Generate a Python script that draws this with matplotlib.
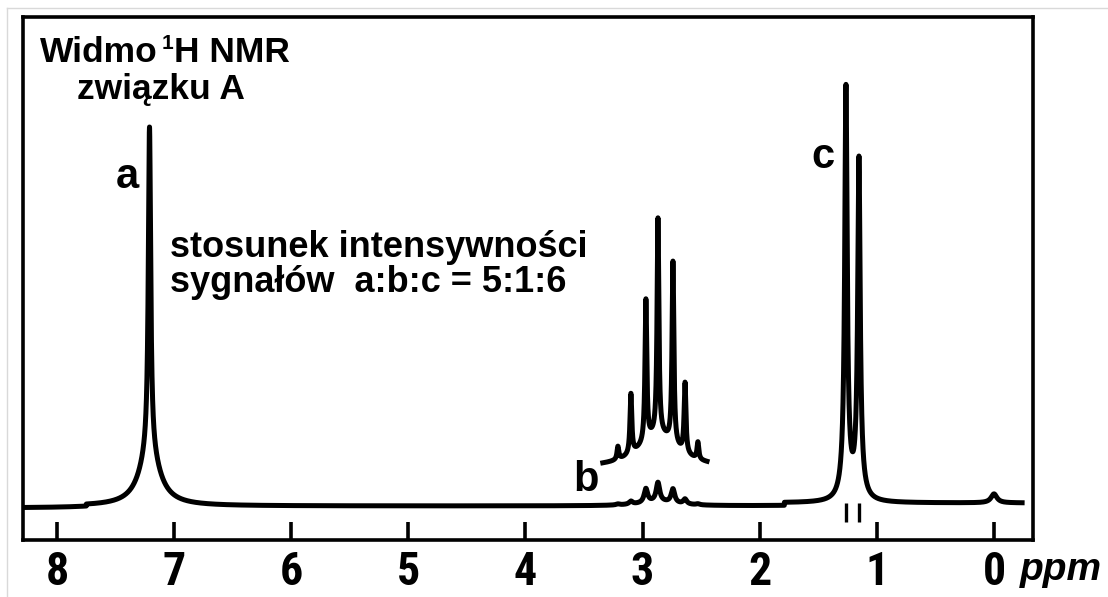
import numpy as np
import matplotlib.pyplot as plt
from matplotlib import font_manager
from matplotlib.font_manager import FontProperties
from matplotlib.lines import Line2D

# --- peak tables (ppm, height above baseline, half-width in ppm) ---
a_ppm = [7.21]
a_height = [324]
a_width = [0.012]
a_foot = [55]          # broad wings under signal a
a_foot_width = [0.10]

c_ppm = [1.264, 1.153]
c_height = [372, 305]
c_width = [0.012, 0.012]
c_foot = [40, 34]
c_foot_width = [0.035, 0.035]
c_spike = -16          # pen dips below the baseline under the doublet

b_ppm = [3.211, 3.100, 2.972, 2.869, 2.741, 2.638, 2.528]
b_height = [1, 3, 14, 19, 14, 5, 1]
b_width = 0.018
b_env = 4
b_env_width = 0.18

# expanded septet drawn above signal b
b_zoom_height = [13, 60, 142, 216, 182, 70, 17]
b_zoom_width = 0.009
b_zoom_offset = 38
b_zoom_env = 32
b_zoom_env_width = 0.2
b_zoom_range = (3.34, 2.45)

tms_ppm = [0.0]
tms_height = [9]
tms_width = [0.03]

# baseline drift of the recorder trace
baseline_breaks = [7.75, 1.79]
baseline_levels = [-2, 0, 3]

ppm_ticks = [8, 7, 6, 5, 4, 3, 2, 1, 0]
ppm_start, ppm_end = 8.29, -0.24


def lorentz(x, pos, h, w):
    y = np.zeros_like(x)
    for p, hh, ww in zip(pos, h, w):
        y += hh / (1 + ((x - p) / ww) ** 2)
    return y


def condensed_bold():
    # a narrow bold face for the scale numbers, if one is installed
    for fam in ['Liberation Sans Narrow', 'Roboto Condensed', 'Open Sans Condensed']:
        for f in font_manager.fontManager.ttflist:
            if f.name == fam and f.weight in (700, 'bold') and f.style == 'normal':
                return FontProperties(fname=f.fname)
    for f in font_manager.fontManager.ttflist:
        if (f.name in ('DejaVu Sans', 'Roboto', 'Open Sans') and f.stretch == 'condensed'
                and f.weight in (700, 'bold') and f.style == 'normal'):
            return FontProperties(fname=f.fname)
    return FontProperties(family='Liberation Sans', weight='bold')


plt.rcParams['font.family'] = ['Liberation Sans', 'DejaVu Sans']

x = np.linspace(ppm_start, ppm_end, 40000)
base = np.where(x > baseline_breaks[0], baseline_levels[0],
                np.where(x > baseline_breaks[1], baseline_levels[1], baseline_levels[2]))
y = base.astype(float)
y += lorentz(x, a_ppm, a_height, a_width)
y += lorentz(x, a_ppm, a_foot, a_foot_width)
y += lorentz(x, c_ppm, c_height, c_width)
y += lorentz(x, c_ppm, c_foot, c_foot_width)
y += lorentz(x, b_ppm, b_height, [b_width] * len(b_ppm))
y += lorentz(x, [np.mean(b_ppm)], [b_env], [b_env_width])
y += lorentz(x, tms_ppm, tms_height, tms_width)

xz = np.linspace(b_zoom_range[0], b_zoom_range[1], 6000)
yz = b_zoom_offset + lorentz(xz, [np.mean(b_ppm)], [b_zoom_env], [b_zoom_env_width])
yz += lorentz(xz, b_ppm, b_zoom_height, [b_zoom_width] * len(b_ppm))

fig = plt.figure(figsize=(11.08, 5.97), dpi=100)
ax = fig.add_axes([23 / 1108, 57 / 597, 1010 / 1108, 523 / 597])

lw = 3.6
ax.plot(x, y, color='black', lw=lw, solid_joinstyle='round')
ax.plot(xz, yz, color='black', lw=lw, solid_joinstyle='round')
ax.vlines(c_ppm, c_spike, baseline_levels[2], color='black', lw=2.4)

ax.set_xlim(ppm_start, -0.333)
ax.set_ylim(-34, 489)
ax.set_xticks(ppm_ticks)
tick_font = condensed_bold()
tick_font.set_size(33)
ax.set_xticklabels([str(t) for t in ppm_ticks], fontproperties=tick_font)
ax.set_yticks([])
ax.tick_params(axis='x', direction='in', length=13, width=2.6, pad=7)
for s in ax.spines.values():
    s.set_linewidth(2.6)

# titles and notes
widmo = ax.text(0.0168, 0.914, 'Widmo', transform=ax.transAxes, fontsize=25.5,
                fontweight='bold', va='baseline')
sup = ax.annotate('1', xy=(1, 0.914), xycoords=(widmo, 'axes fraction'),
                  xytext=(3, 9), textcoords='offset points',
                  fontsize=15, fontweight='bold', va='baseline')
ax.annotate('H NMR', xy=(1, 0.914), xycoords=(sup, 'axes fraction'),
            xytext=(0.5, 0), textcoords='offset points',
            fontsize=25.5, fontweight='bold', va='baseline')
ax.text(0.0535, 0.843, 'związku A', transform=ax.transAxes, fontsize=25.5,
        fontweight='bold', va='baseline')
ax.text(0.1455, 0.541, 'stosunek intensywności', transform=ax.transAxes,
        fontsize=26, fontweight='bold', va='baseline')
ax.text(0.1455, 0.474, 'sygnałów  a:b:c = 5:1:6', transform=ax.transAxes,
        fontsize=26, fontweight='bold', va='baseline')

ax.text(7.395, 329, 'a', fontsize=30, fontweight='bold', ha='center', va='center')
ax.text(3.484, 26, 'b', fontsize=30, fontweight='bold', ha='center', va='center')
ax.text(1.46, 349, 'c', fontsize=30, fontweight='bold', ha='center', va='center')

ax.text(0.987, -0.0765, 'ppm', transform=ax.transAxes, fontsize=28,
        fontweight='bold', fontstyle='italic', va='baseline', ha='left')

# faint page edge
fig.add_artist(Line2D([7 / 1108, 7 / 1108], [0, 1 - 8 / 597], color='#d9d9d9', lw=1))
fig.add_artist(Line2D([7 / 1108, 1], [1 - 8 / 597, 1 - 8 / 597], color='#d9d9d9', lw=1))

fig.savefig('out.png', dpi=100)
